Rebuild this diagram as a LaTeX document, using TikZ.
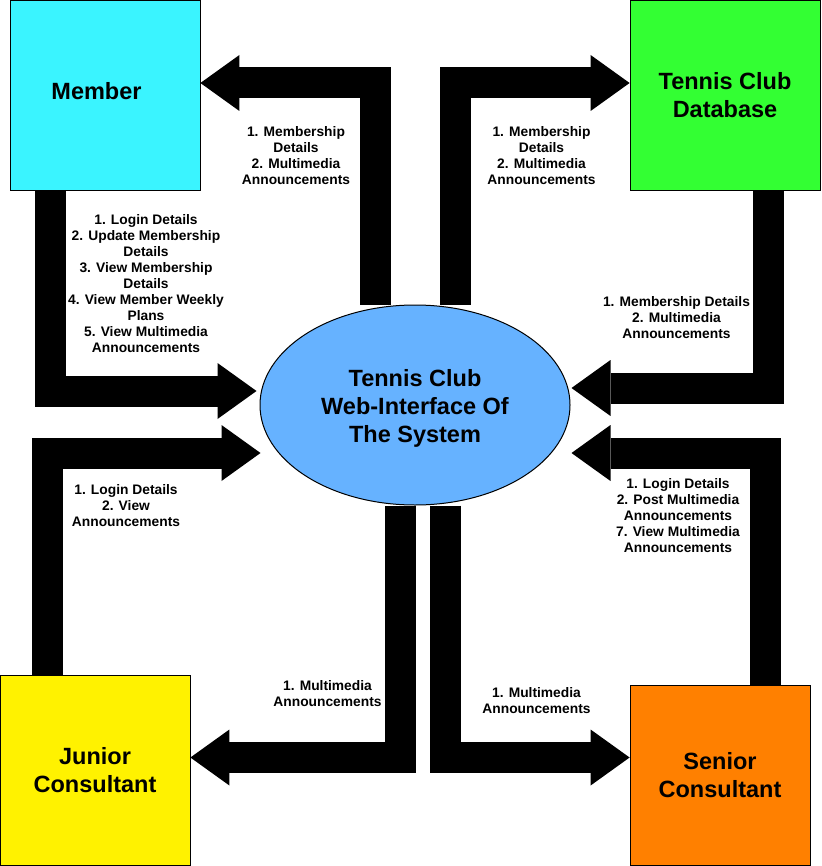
\documentclass[tikz,border=0pt]{standalone}
\usepackage{fontspec}
\setmainfont{Liberation Sans}
\usetikzlibrary{arrows.meta,calc,backgrounds,shapes.geometric}
\definecolor{memcyan}{RGB}{58,244,255}
\definecolor{dbgreen}{RGB}{51,255,51}
\definecolor{sysblue}{RGB}{102,178,255}
\definecolor{senorange}{RGB}{255,128,0}

\begin{document}
\begin{tikzpicture}[x=1pt,y=-1pt,
    title/.style={inner sep=0pt, align=center, font=\fontsize{23.5}{28}\selectfont\bfseries},
    box/.style={draw, line width=0.8pt, minimum width=190pt, minimum height=190pt, title},
    lbl/.style={inner sep=0pt, align=center, font=\fontsize{13.8}{16}\selectfont\bfseries},
    flow/.style={line width=31pt, -{Triangle[length=39pt,width=56pt,line width=0pt]}}]
            \useasboundingbox (0,0) rectangle (821,866);
            \node[box, fill=memcyan, label={[title, xshift=-8.5pt, yshift=4pt]center:Member}] (Mem) at (105,95) {};
            \node[box, fill=dbgreen] (DB) at (725,95) {Tennis Club\\Database};
            \node[box, fill=yellow] (Jun) at (95,770) {Junior\\Consultant};
            \node[box, fill=senorange, minimum width=180pt, minimum height=180pt] (Sen) at (720,775) {Senior\\Consultant};
            \node[ellipse, draw, line width=1pt, fill=sysblue, minimum width=310pt, minimum height=200pt, label={[title, yshift=-3pt]center:Tennis Club\\Web-Interface Of\\The System}] (Sys) at (415,405) {};
            \node[lbl] (L1) at (296,156) {1. Membership\\Details\\2. Multimedia\\Announcements};
            \node[lbl] (L2) at (541.5,156) {1. Membership\\Details\\2. Multimedia\\Announcements};
            \node[lbl] (L3) at (676.5,318) {1. Membership Details\\2. Multimedia\\Announcements};
            \node[lbl] (L4) at (146,284) {1. Login Details\\2. Update Membership\\Details\\3. View Membership\\Details\\4. View Member Weekly\\Plans\\5. View Multimedia\\Announcements};
            \node[lbl] (L5) at (126,506) {1. Login Details\\2. View\\Announcements};
            \node[lbl] (L6) at (327.5,694) {1. Multimedia\\Announcements};
            \node[lbl] (L7) at (536.5,701) {1. Multimedia\\Announcements};
            \node[lbl] (L8) at (678,516) {1. Login Details\\2. Post Multimedia\\Announcements\\7. View Multimedia\\Announcements};
            \begin{pgfonlayer}{background}
            \draw[flow] ($(Sys.north)+(-40,0)$) |- ($(Mem.east)+(0,-12)$);
            \draw[flow] ($(Sys.north)+(40.5,0)$) |- ($(DB.west)+(0,-12)$);
            \draw[flow] ($(DB.south)+(43,0)$) |- ($(Sys.east)+(1,-17)$);
            \draw[flow] ($(Mem.south)+(-55,0)$) |- ($(Sys.west)+(-3,-14)$);
            \draw[flow] ($(Jun.north)+(-48,0)$) |- ($(Sys.west)+(1,48)$);
            \draw[flow] ($(Sys.south)+(-15,0)$) |- ($(Jun.east)+(0,-12.5)$);
            \draw[flow] ($(Sys.south)+(30.5,0)$) |- ($(Sen.west)+(0,-17.5)$);
            \draw[flow] ($(Sen.north)+(45.5,0)$) |- ($(Sys.east)+(1,48)$);
            \end{pgfonlayer}
        \end{tikzpicture}
\end{document}
